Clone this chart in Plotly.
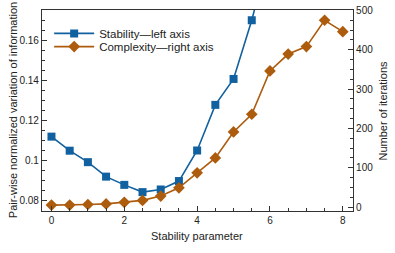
import plotly.graph_objects as go

x_param = [0, 0.5, 1, 1.5, 2, 2.5, 3, 3.5, 4, 4.5, 5, 5.5, 6]
stability = [0.112, 0.105, 0.0993, 0.0921, 0.088, 0.0844, 0.0857, 0.0899, 0.1051, 0.1278, 0.1407, 0.1699, 0.205]
x_complex = [0, 0.5, 1, 1.5, 2, 2.5, 3, 3.5, 4, 4.5, 5, 5.5, 6, 6.5, 7, 7.5, 8]
complexity = [5, 5, 6.5, 8, 12, 17, 28, 49, 87, 125, 191, 236, 346, 389, 408, 475, 446]

blue = "#11609f"
brown = "#ad5b0c"
font = "Liberation Sans, Arial, sans-serif"

fig = go.Figure()
fig.add_trace(go.Scatter(x=x_param, y=stability, mode="lines+markers",
                         name="Stability\u2014left axis", legend="legend",
                         line=dict(color=blue, width=1.6),
                         marker=dict(symbol="square", size=8, color=blue),
                         cliponaxis=True))
fig.add_trace(go.Scatter(x=x_complex, y=complexity, mode="lines+markers",
                         name="Complexity\u2014right axis", yaxis="y2", legend="legend2",
                         line=dict(color=brown, width=1.6),
                         marker=dict(symbol="diamond", size=9, color=brown),
                         cliponaxis=True))

leg_common = dict(x=0.023, xanchor="left", yanchor="middle",
                  bgcolor="rgba(0,0,0,0)", font=dict(size=11.5), itemwidth=40)

fig.update_layout(
    width=395, height=253,
    margin=dict(l=42, r=42, t=5, b=42),
    paper_bgcolor="white", plot_bgcolor="white",
    font=dict(family=font, size=11, color="#222"),
    showlegend=True,
    legend=dict(y=(211 - 29) / 206, **leg_common),
    legend2=dict(y=(211 - 42.5) / 206, **leg_common),
    xaxis=dict(range=[-0.26, 8.28], tickvals=[0, 2, 4, 6, 8],
               ticks="inside", ticklen=5, tickcolor="#333",
               minor=dict(dtick=0.5, ticks="inside", ticklen=3, tickcolor="#333"),
               showline=True, linecolor="#333", linewidth=1.2, mirror=True,
               showgrid=False, zeroline=False,
               tickfont=dict(size=10)),
    yaxis=dict(range=[0.075, 0.175], tickvals=[0.08, 0.1, 0.12, 0.14, 0.16],
               ticktext=["0.08", "0.1", "0.12", "0.14", "0.16"],
               ticks="inside", ticklen=5, tickcolor="#333",
               minor=dict(dtick=0.005, ticks="inside", ticklen=3, tickcolor="#333"),
               showline=True, linecolor="#333", linewidth=1.2,
               showgrid=False, zeroline=False,
               tickfont=dict(size=10)),
    yaxis2=dict(range=[-10, 501], tickvals=[0, 100, 200, 300, 400, 500],
                overlaying="y", side="right",
                ticks="inside", ticklen=5, tickcolor="#333",
                minor=dict(dtick=25, ticks="inside", ticklen=3, tickcolor="#333"),
                showline=True, linecolor="#333", linewidth=1.2,
                showgrid=False, zeroline=False, ticklabeloverflow="allow",
                tickfont=dict(size=10)),
    annotations=[
        dict(text="Stability parameter", xref="paper", yref="paper",
             x=(197 - 42) / 311, y=(211 - 236.7) / 206, xanchor="center", yanchor="middle",
             showarrow=False, font=dict(size=11)),
        dict(text="Pair-wise normalized variation of information", xref="paper", yref="paper",
             x=(12.7 - 42) / 311, y=(211 - 108) / 206, xanchor="center", yanchor="middle",
             textangle=-90, showarrow=False, font=dict(size=11)),
        dict(text="Number of iterations", xref="paper", yref="paper",
             x=(382 - 42) / 311, y=(211 - 108) / 206, xanchor="center", yanchor="middle",
             textangle=-90, showarrow=False, font=dict(size=11)),
    ],
)

fig.write_html("out.html", config={"displayModeBar": False},
               post_script="document.body.style.margin='0px';")
